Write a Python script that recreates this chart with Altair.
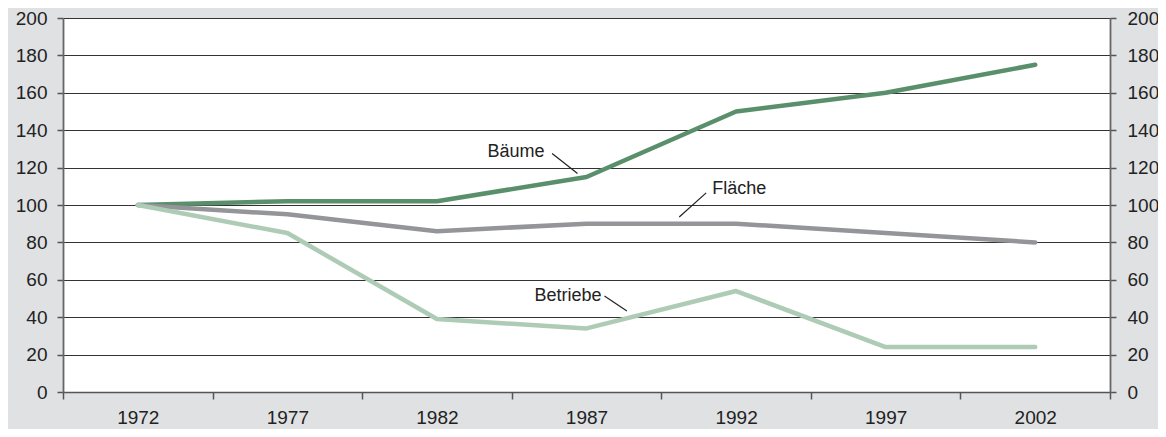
import altair as alt
import pandas as pd

years = ["1972", "1977", "1982", "1987", "1992", "1997", "2002"]
baeume = [100, 102, 102, 115, 150, 160, 175]
flaeche = [100, 95, 86, 90, 90, 85, 80]
betriebe = [100, 85, 39, 34, 54, 24, 24]

series_names = ["Bäume", "Fläche", "Betriebe"]
series_colors = ["#5a8f6c", "#939598", "#aecbb5"]

# annotation labels (position in year / value units)
label_text = ["Bäume", "Fläche", "Betriebe"]
label_x = [1985.6, 1991.2, 1987.5]
label_y = [128.5, 108.6, 51.3]
label_align = ["right", "left", "right"]
# leader lines
lead_x1 = [1985.85, 1991.0, 1987.6]
lead_y1 = [127.5, 106.5, 51.3]
lead_x2 = [1986.7, 1990.1, 1988.35]
lead_y2 = [116.8, 93.6, 43.3]

rows = []
for name, vals in zip(series_names, [baeume, flaeche, betriebe]):
    for y, v in zip(years, vals):
        rows.append({"Jahr": y, "Wert": v, "Serie": name})
df = pd.DataFrame(rows)

labels_df = pd.DataFrame({"text": label_text, "x": label_x, "y": label_y, "align": label_align})
lead_df = pd.DataFrame({"x": lead_x1, "y": lead_y1, "x2": lead_x2, "y2": lead_y2})

FONT = "Liberation Sans"
FS = 19
ydomain = [0, 200]
yvals = list(range(0, 201, 20))

xenc = alt.X(
    "Jahr:O",
    sort=years,
    bandPosition=0.5,
    scale=alt.Scale(type="band", paddingInner=0, paddingOuter=0),
    axis=alt.Axis(
        title=None, labelAngle=0, tickBand="extent", tickSize=7, tickColor="#555",
        tickWidth=1.5, domainColor="#555", domainWidth=1.5, labelPadding=9,
        labelFont=FONT, labelFontSize=FS, labelColor="#222", grid=False,
    ),
)

lines = alt.Chart(df).mark_line(strokeWidth=4.5, strokeCap="round", strokeJoin="round").encode(
    x=xenc,
    y=alt.Y(
        "Wert:Q",
        scale=alt.Scale(domain=ydomain, nice=False),
        axis=alt.Axis(
            title=None, values=yvals, orient="left", grid=True, gridColor="#333",
            gridWidth=1, tickSize=6, tickColor="#555", tickWidth=1.5,
            domainColor="#666", domainWidth=1.8, labelPadding=10,
            labelFont=FONT, labelFontSize=FS, labelColor="#222",
        ),
    ),
    color=alt.Color("Serie:N", scale=alt.Scale(domain=series_names, range=series_colors), legend=None),
    detail="Serie:N",
)

right_axis = alt.Chart(df).mark_line(opacity=0).encode(
    x=alt.X("Jahr:O", sort=years, bandPosition=0.5,
            scale=alt.Scale(type="band", paddingInner=0, paddingOuter=0), axis=None),
    y=alt.Y(
        "Wert:Q",
        scale=alt.Scale(domain=ydomain, nice=False),
        axis=alt.Axis(
            title=None, values=yvals, orient="right", grid=False,
            tickSize=6, tickColor="#555", tickWidth=1.5,
            domainColor="#666", domainWidth=1.8, labelPadding=11,
            labelFont=FONT, labelFontSize=FS, labelColor="#222",
        ),
    ),
    detail="Serie:N",
)

qx = alt.Scale(domain=[1969.5, 2004.5], nice=False, zero=False)
qy = alt.Scale(domain=ydomain, nice=False)

text_right = alt.Chart(labels_df).transform_filter("datum.align == 'right'").mark_text(
    font=FONT, fontSize=18, color="#222", baseline="middle", align="right"
).encode(
    x=alt.X("x:Q", scale=qx, axis=None),
    y=alt.Y("y:Q", scale=qy, axis=None),
    text="text:N",
)
text_left = alt.Chart(labels_df).transform_filter("datum.align == 'left'").mark_text(
    font=FONT, fontSize=18, color="#222", baseline="middle", align="left"
).encode(
    x=alt.X("x:Q", scale=qx, axis=None),
    y=alt.Y("y:Q", scale=qy, axis=None),
    text="text:N",
)
leaders = alt.Chart(lead_df).mark_rule(color="#222", strokeWidth=1.2).encode(
    x=alt.X("x:Q", scale=qx, axis=None),
    y=alt.Y("y:Q", scale=qy, axis=None),
    x2="x2:Q",
    y2="y2:Q",
)

annot = alt.layer(leaders, text_right, text_left)

chart = (
    alt.layer(lines, right_axis, annot)
    .resolve_scale(x="independent", y="independent")
    .properties(
        width=1047,
        height=374,
        autosize=alt.AutoSizeParams(type="none"),
        padding={"left": 55, "top": 10, "right": 48, "bottom": 37},
        background="#e0e1e3",
    )
    .configure_view(fill="white", stroke=None)
)

chart.save("out.html", embed_options={"renderer": "svg", "actions": False})
